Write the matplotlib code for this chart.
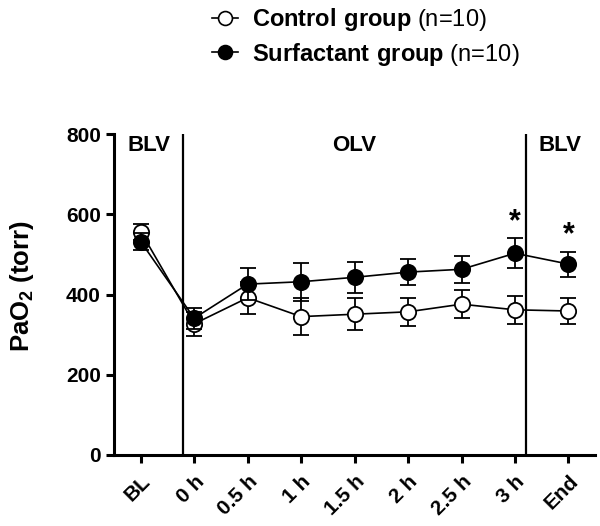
import matplotlib
matplotlib.use("Agg")
from matplotlib import pyplot as plt
from matplotlib.lines import Line2D
import numpy as np

plt.rcParams['font.family'] = ['Liberation Sans', 'DejaVu Sans']
plt.rcParams['mathtext.fontset'] = 'custom'
plt.rcParams['mathtext.rm'] = 'Liberation Sans'
plt.rcParams['mathtext.bf'] = 'Liberation Sans:bold'

# time points
labels = ['BL', '0 h', '0.5 h', '1 h', '1.5 h', '2 h', '2.5 h', '3 h', 'End']

# PaO2 (torr), mean and error
control_mean = [557, 327, 392, 345, 351, 357, 376, 362, 359]
control_err = [20, 30, 40, 47, 40, 35, 35, 35, 32]
surf_mean = [532, 341, 426, 432, 443, 456, 463, 503, 476]
surf_err = [21, 26, 40, 47, 39, 33, 33, 37, 31]

# significance marks (index of time point)
sig_idx = [7, 8]

# ventilation phase labels
phase_names = ['BLV', 'OLV', 'BLV']

fig = plt.figure(figsize=(6, 5.26), dpi=100)
ax = fig.add_axes([0.19, 0.135, 0.802, 0.61])

x = np.arange(len(labels))
ax.errorbar(x, control_mean, yerr=control_err, fmt='-o', color='black',
            mfc='white', mec='black', ms=11, mew=1.3, lw=1.2,
            elinewidth=1.3, capsize=6, capthick=1.3, zorder=3)
ax.errorbar(x, surf_mean, yerr=surf_err, fmt='-o', color='black',
            mfc='black', mec='black', ms=11, mew=1.3, lw=1.2,
            elinewidth=1.3, capsize=6, capthick=1.3, zorder=4)

for i in sig_idx:
    ax.text(x[i], surf_mean[i] + surf_err[i] + 3, '*', ha='center', va='bottom',
            fontsize=22, fontweight='bold')

# phase separators
ax.axvline(0.79, color='black', lw=1.6)
ax.axvline(7.2, color='black', lw=1.6)
ax.text(0.15, 772, phase_names[0], ha='center', va='center', fontsize=16, fontweight='bold')
ax.text(4.0, 772, phase_names[1], ha='center', va='center', fontsize=16, fontweight='bold')
ax.text(7.85, 772, phase_names[2], ha='center', va='center', fontsize=16, fontweight='bold')

ax.set_xlim(-0.5, 8.5)
ax.set_ylim(0, 800)
ax.set_yticks([0, 200, 400, 600, 800])
ax.set_xticks(x)
ax.set_xticklabels(labels, rotation=45, ha='right', rotation_mode='anchor')
for lab in ax.get_xticklabels() + ax.get_yticklabels():
    lab.set_fontweight('bold')
    lab.set_fontsize(15)

ax.spines['top'].set_visible(False)
ax.spines['right'].set_visible(False)
ax.spines['left'].set_linewidth(2.2)
ax.spines['bottom'].set_linewidth(2.2)
ax.tick_params(axis='both', width=2.2, length=6, direction='out')
ax.tick_params(axis='x', pad=6)
ax.set_ylabel(r'$\mathbf{PaO_2}$ (torr)', fontsize=18.5, fontweight='bold')
ax.yaxis.set_label_coords(-0.162, 0.527)

handles = [
    Line2D([], [], color='black', lw=1.2, marker='o', ms=10, mfc='white', mec='black', mew=1.2),
    Line2D([], [], color='black', lw=1.2, marker='o', ms=10, mfc='black', mec='black', mew=1.2),
]
labs = [r'$\mathbf{Control\ group}$ (n=10)', r'$\mathbf{Surfactant\ group}$ (n=10)']
fig.legend(handles, labs, loc='upper left', bbox_to_anchor=(0.353, 0.989),
           frameon=False, fontsize=17, handlelength=1.1, labelspacing=0.33,
           handletextpad=0.6, borderpad=0, borderaxespad=0)

plt.savefig('out.png', dpi=100)
